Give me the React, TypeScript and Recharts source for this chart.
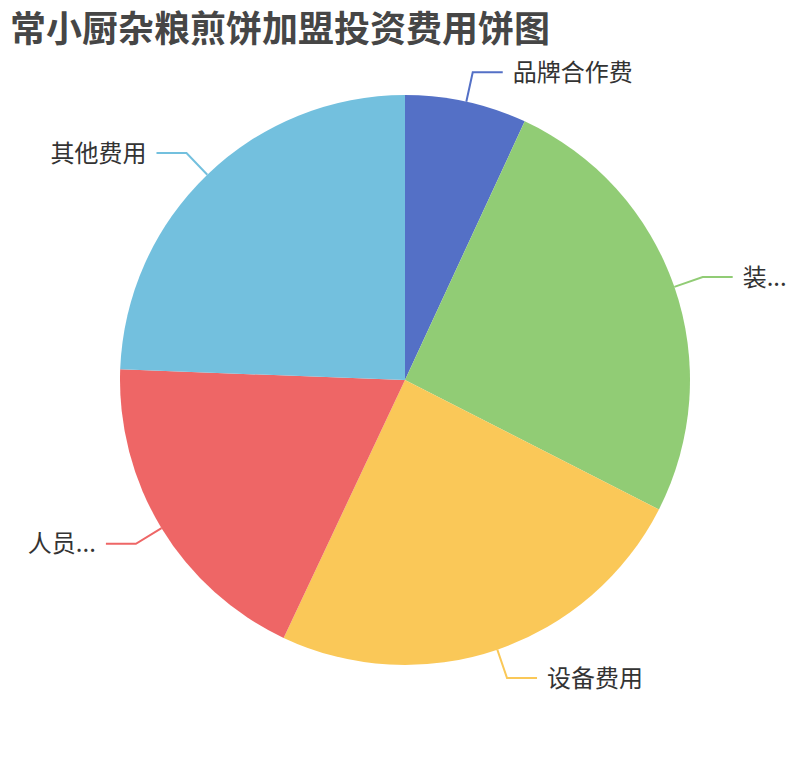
import React from 'react';
import { PieChart, Pie, Cell } from 'recharts';

const categories = ['品牌合作费', '装...', '设备费用', '人员...', '其他费用'];
const values = [6.9, 25.6, 24.5, 18.6, 24.4];
const colors = ['#5470c6', '#91cc75', '#fac858', '#ee6666', '#73c0de'];
const title = '常小厨杂粮煎饼加盟投资费用饼图';

const data = categories.map((name, i) => ({ name, value: values[i] }));

const RAD = Math.PI / 180;
const FONT = '"Noto Sans CJK SC", "Noto Sans", sans-serif';

const renderLabel = (props: any) => {
  const { cx, cy, midAngle, outerRadius, index } = props;
  const cos = Math.cos(-midAngle * RAD);
  const sin = Math.sin(-midAngle * RAD);
  const x0 = cx + outerRadius * cos;
  const y0 = cy + outerRadius * sin;
  const x1 = cx + (outerRadius + 30) * cos;
  const y1 = cy + (outerRadius + 30) * sin;
  const right = cos >= 0;
  const x2 = x1 + (right ? 30 : -30);
  const tx = x2 + (right ? 10 : -10);
  const color = colors[index % colors.length];
  return (
    <g key={`lbl-${index}`}>
      <polyline
        points={`${x0},${y0} ${x1},${y1} ${x2},${y1}`}
        fill="none"
        stroke={color}
        strokeWidth={2}
      />
      <text
        x={tx}
        y={y1}
        dy={-2}
        textAnchor={right ? 'start' : 'end'}
        dominantBaseline="central"
        fontSize={24}
        fontFamily={FONT}
        fill="#333"
      >
        {categories[index]}
      </text>
    </g>
  );
};

export default function App() {
  return (
    <div style={{ position: 'absolute', left: 0, top: 0, width: 810, height: 760, background: '#fff' }}>
      <div
        style={{
          position: 'absolute',
          left: 10,
          top: 6,
          fontSize: 36,
          fontWeight: 'bold',
          color: '#464646',
          fontFamily: FONT,
          lineHeight: '40px',
          whiteSpace: 'nowrap',
        }}
      >
        {title}
      </div>
      <PieChart width={810} height={760} margin={{ top: 0, right: 0, bottom: 0, left: 0 }}>
        <Pie
          data={data}
          dataKey="value"
          nameKey="name"
          cx={405}
          cy={380}
          innerRadius={0}
          outerRadius={285}
          startAngle={90}
          endAngle={-270}
          isAnimationActive={false}
          label={renderLabel}
          labelLine={false}
          stroke="none"
          strokeWidth={0}
        >
          {data.map((d, i) => (
            <Cell key={d.name} fill={colors[i]} stroke="none" />
          ))}
        </Pie>
      </PieChart>
    </div>
  );
}
